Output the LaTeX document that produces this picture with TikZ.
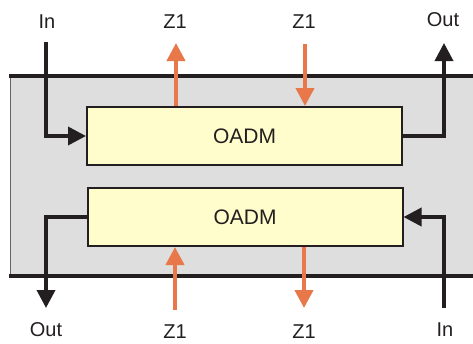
\documentclass[tikz,border=0pt]{standalone}
\usepackage{fontspec}
\setmainfont{Liberation Sans}
\usetikzlibrary{arrows.meta}
\definecolor{ink}{HTML}{231F20}
\definecolor{orng}{HTML}{E8784A}
\definecolor{boxfill}{HTML}{FFFDCB}
\definecolor{frame}{HTML}{DEDEDE}
\tikzset{
  oadm/.style={draw=ink, line width=2pt, fill=boxfill, minimum width=315pt, minimum height=58pt, inner sep=0pt, font=\fontsize{21}{23}\selectfont, text=ink},
  lbl/.style={inner sep=0pt, font=\fontsize{20}{22}\selectfont, text=ink},
  barrow/.style={draw=ink, line width=3.6pt, -{Triangle[length=18pt,width=18pt]}},
  oarrow/.style={draw=orng, line width=4pt, -{Triangle[length=18pt,width=18pt]}}
}
\begin{document}
\begin{tikzpicture}[x=1pt,y=-1pt]
\useasboundingbox (0,0) rectangle (473,343);
\clip (0,0) rectangle (473,343);
% frame
\fill[frame] (10,76) rectangle (480,276);
\draw[draw=ink!70, line width=1pt] (10,76) -- (10,276);
\draw[draw=ink, line width=4pt] (9,76) -- (480,76);
\draw[draw=ink, line width=4pt] (9,276) -- (480,276);
% boxes
\node[oadm] (top) at (244.5,136) {OADM};
\node[oadm] (bot) at (245,217) {OADM};
% labels
\node[lbl] (inA) at (47,22) {In};
\node[lbl] (z1a) at (175,22) {Z1};
\node[lbl] (z1b) at (304,22) {Z1};
\node[lbl] (outA) at (443,20) {Out};
\node[lbl] (outB) at (46,330) {Out};
\node[lbl] (z1c) at (175,332) {Z1};
\node[lbl] (z1d) at (304,332) {Z1};
\node[lbl] (inB) at (445,330) {In};
% free ends
\coordinate (inAs) at (46,42);
\coordinate (z1aE) at (176,43);
\coordinate (z1bS) at (305,44);
\coordinate (outAE) at (444,43);
\coordinate (outBE) at (46,308);
\coordinate (z1cS) at (175,310);
\coordinate (z1dE) at (304,308);
\coordinate (inBs) at (444,308);
% connectors
\draw[barrow] (inAs) |- (top.west);
\draw[oarrow] (top.north -| z1aE) -- (z1aE);
\draw[oarrow] (z1bS) -- (top.north -| z1bS);
\draw[barrow] (top.east) -| (outAE);
\draw[barrow] (bot.west) -| (outBE);
\draw[oarrow] (z1cS) -- (bot.south -| z1cS);
\draw[oarrow] (bot.south -| z1dE) -- (z1dE);
\draw[barrow] (inBs) |- (bot.east);
\end{tikzpicture}
\end{document}
